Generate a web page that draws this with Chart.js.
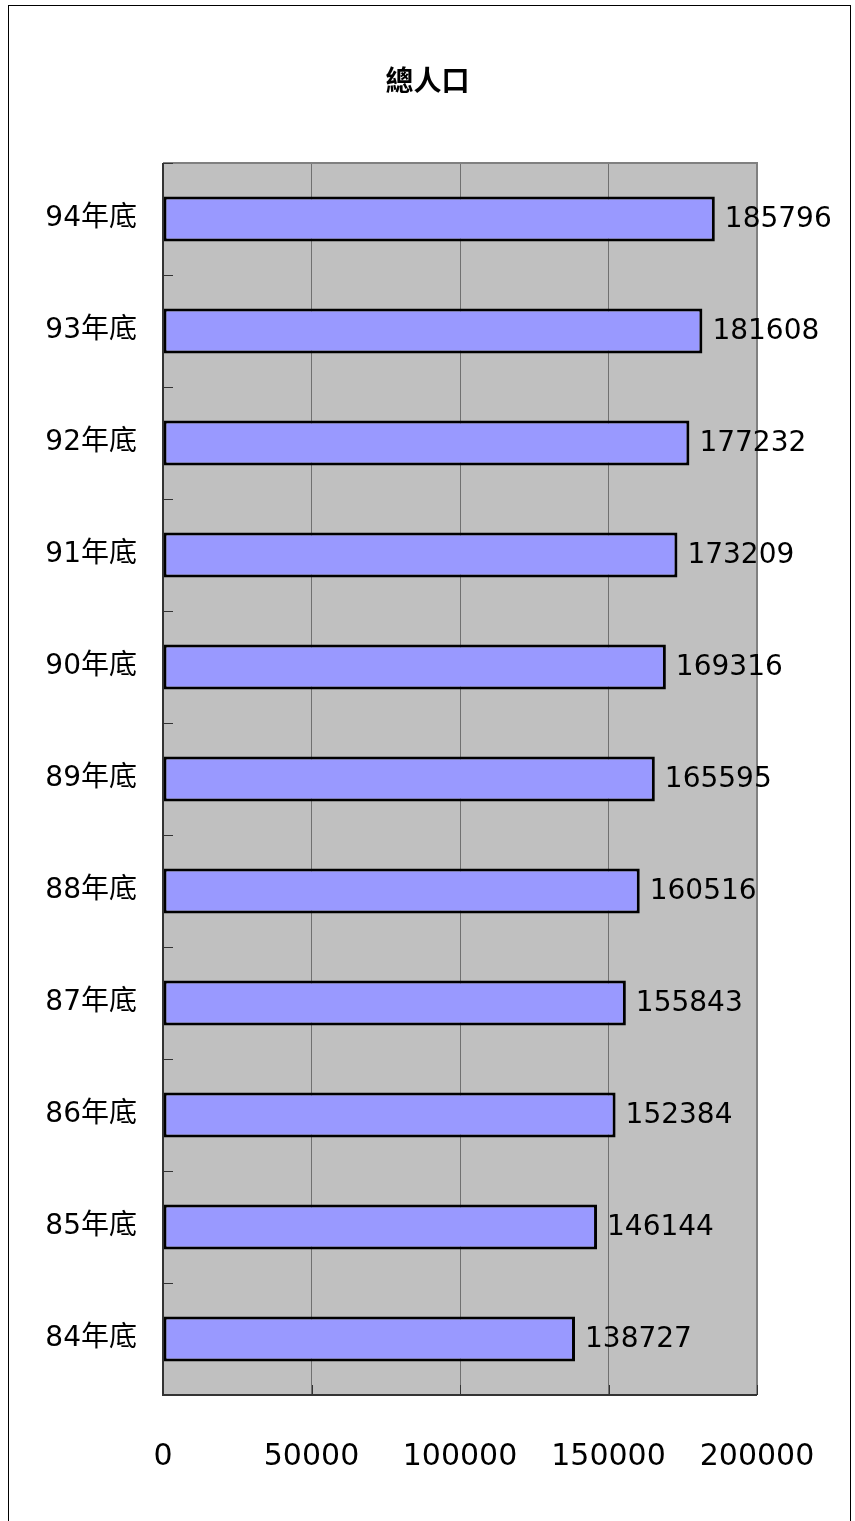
<!DOCTYPE html>
<html>
<head>
<meta charset="utf-8">
<script src="https://cdn.jsdelivr.net/npm/chart.js@4"></script>
<style>
  body { margin: 0; background: #fff; }
  #wrap { width: 855px; height: 1521px; }
</style>
</head>
<body>
<div id="wrap"><canvas id="myChart"></canvas></div>
<script>
const categories = ['84年底', '85年底', '86年底', '87年底', '88年底', '89年底', '90年底', '91年底', '92年底', '93年底', '94年底'];
const population = [138727, 146144, 152384, 155843, 160516, 165595, 169316, 173209, 177232, 181608, 185796];
const xTicks = [0, 50000, 100000, 150000, 200000];
const chartTitle = '總人口';

const fontFamily = '"DejaVu Sans", "Noto Sans CJK TC", sans-serif';

// fondo gris del area, marco exterior, titulo, marcas internas y etiquetas de valor
const framePlugin = {
    id: 'frame',
    beforeDraw(chart) {
        const ctx = chart.ctx;
        const a = chart.chartArea;
        ctx.save();
        ctx.fillStyle = '#ffffff';
        ctx.fillRect(0, 0, chart.width, chart.height);
        ctx.strokeStyle = '#000000';
        ctx.lineWidth = 1;
        ctx.strokeRect(8.5, 5.5, 842, 1540);
        ctx.fillStyle = '#c0c0c0';
        ctx.fillRect(a.left, a.top, a.right - a.left, a.bottom - a.top);
        // titulo centrado en todo el lienzo
        ctx.fillStyle = '#000000';
        ctx.font = 'bold 28px "Noto Sans CJK TC", sans-serif';
        ctx.textAlign = 'center';
        ctx.textBaseline = 'middle';
        ctx.fillText(chartTitle, chart.width / 2, 80);
        ctx.restore();
    },
    afterDatasetsDraw(chart) {
        const ctx = chart.ctx;
        const a = chart.chartArea;
        const x = chart.scales.x;
        const y = chart.scales.y;
        ctx.save();
        // borde superior y derecho
        ctx.strokeStyle = '#808080';
        ctx.lineWidth = 2;
        ctx.beginPath();
        ctx.moveTo(a.left, a.top);
        ctx.lineTo(a.right, a.top);
        ctx.lineTo(a.right, a.bottom);
        ctx.stroke();
        // ejes
        ctx.strokeStyle = '#333333';
        ctx.beginPath();
        ctx.moveTo(a.left, a.top);
        ctx.lineTo(a.left, a.bottom);
        ctx.lineTo(a.right, a.bottom);
        ctx.stroke();
        // marcas del eje y (entre categorias)
        ctx.lineWidth = 1;
        const n = categories.length;
        for (let i = 0; i <= n; i++) {
            const py = Math.round(y.getPixelForValue(i - 0.5)) + 0.5;
            ctx.beginPath();
            ctx.moveTo(a.left, py);
            ctx.lineTo(a.left + 10, py);
            ctx.stroke();
        }
        // marcas del eje x
        xTicks.forEach(v => {
            const px = Math.round(x.getPixelForValue(v)) + 0.5;
            ctx.beginPath();
            ctx.moveTo(px, a.bottom);
            ctx.lineTo(px, a.bottom - 10);
            ctx.stroke();
        });
        // etiquetas de valor
        ctx.fillStyle = '#000000';
        ctx.font = '28px ' + fontFamily;
        ctx.textAlign = 'left';
        ctx.textBaseline = 'middle';
        chart.getDatasetMeta(0).data.forEach((bar, i) => {
            ctx.fillText(String(population[i]), bar.x + 10, bar.y + 1);
        });
        ctx.restore();
    }
};

const data = {
    labels: categories,
    datasets: [{
        label: chartTitle,
        data: population,
        backgroundColor: '#9999ff',
        borderColor: '#000000',
        borderWidth: 3,
        borderSkipped: false,
        barPercentage: 0.4,
        categoryPercentage: 1.0
    }]
};

const config = {
    type: 'bar',
    data: data,
    options: {
        indexAxis: 'y',
        responsive: true,
        maintainAspectRatio: false,
        animation: false,
        layout: {
            padding: { top: 163, right: 98, bottom: 0, left: 0 }
        },
        plugins: {
            legend: { display: false },
            tooltip: { enabled: false },
            title: { display: false }
        },
        scales: {
            x: {
                min: 0,
                max: 200000,
                afterBuildTicks: (scale) => {
                    scale.ticks = xTicks.map(v => ({ value: v }));
                },
                afterFit: (scale) => {
                    scale.height = 126;
                    scale.paddingLeft = 0;
                    scale.paddingRight = 0;
                },
                grid: {
                    color: '#707070',
                    lineWidth: 1,
                    drawTicks: false
                },
                border: { display: false },
                ticks: {
                    color: '#000000',
                    padding: 44,
                    maxRotation: 0,
                    callback: (v) => String(v),
                    font: { family: fontFamily, size: 30 }
                }
            },
            y: {
                reverse: true,
                afterFit: (scale) => { scale.width = 163; },
                grid: { display: false, drawTicks: false },
                border: { display: false },
                ticks: {
                    color: '#000000',
                    padding: 26,
                    font: { family: fontFamily, size: 28 }
                }
            }
        }
    },
    plugins: [framePlugin]
};

const myChart = new Chart(
    document.getElementById('myChart'),
    config
);
</script>
</body>
</html>
